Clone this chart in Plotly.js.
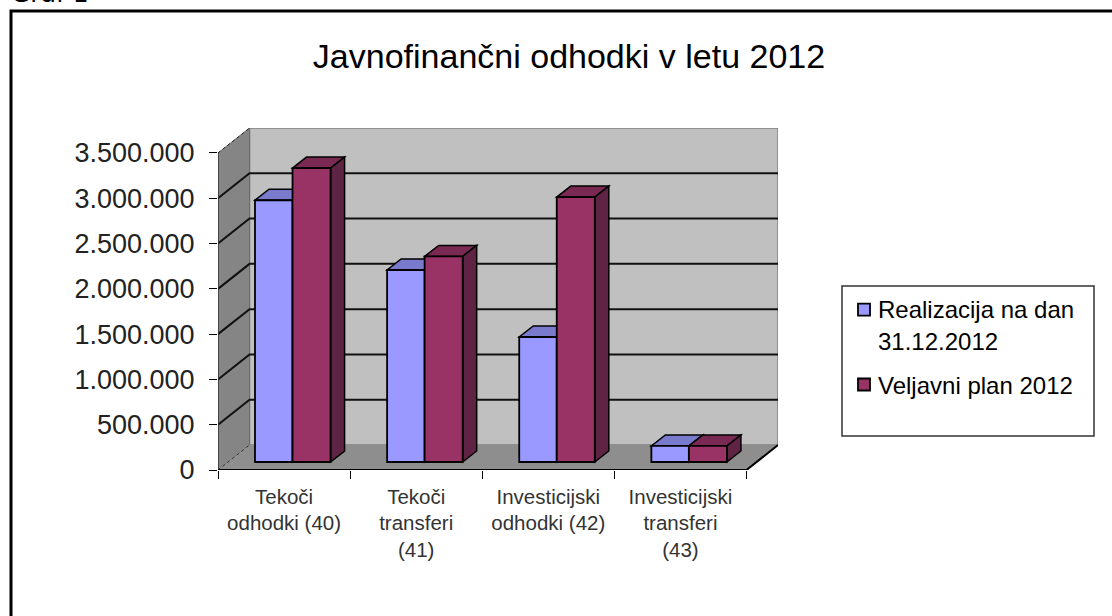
<!DOCTYPE html>
<html><head><meta charset="utf-8">
<script src="https://cdn.plot.ly/plotly-3.0.0.min.js"></script>
<style>html,body{margin:0;padding:0;background:#fff;overflow:hidden}</style>
</head><body><div id="chart" style="width:1112px;height:616px"></div>
<script>
const categories = ['Tekoči<br>odhodki (40)','Tekoči<br>transferi<br>(41)','Investicijski<br>odhodki (42)','Investicijski<br>transferi<br>(43)'];
const realizacija = [2890000, 2120000, 1380000, 177000];
const plan = [3245000, 2270000, 2925000, 177000];
const yTickVals = [0,500000,1000000,1500000,2000000,2500000,3000000,3500000];
const yTickText = ['0','500.000','1.000.000','1.500.000','2.000.000','2.500.000','3.000.000','3.500.000'];
const seriesNames = ['Realizacija na dan<br>31.12.2012','Veljavni plan 2012'];
const seriesColors = ['#9999FF','#993366'];
const topColors = ['#7A7ACC','#7A2952'];
const sideColors = ['#5C5C99','#5F2343'];

// plot box in px and 3-D projection offsets expressed in axis units
const L=218,R=778,T=128,B=470;
const N=categories.length, YMAX=3500000;
const unitX=132, unitY=45.3/500000;
const wallDX=31.5/unitX, wallDY=25/unitY;
const barDX=14/unitX, barDY=11/unitY, barBase=8/unitY;
const barW=[0.284,0.288], barOff=[-0.22,0.064];
const px=x=>(x-L)/(R-L), py=y=>(B-y)/(B-T);
const poly=p=>'M'+p.map(q=>q[0]+','+q[1]).join('L')+'Z';
const open=p=>'M'+p.map(q=>q[0]+','+q[1]).join('L');
const face=(p,fill,lw,col)=>({type:'path',xref:'x',yref:'y',layer:'below',path:poly(p),fillcolor:fill,line:{color:col||'#000',width:lw}});
const edge=(p,col,w,dash)=>({type:'path',xref:'x',yref:'y',layer:'below',path:open(p),line:{color:col,width:w,dash:dash||'solid'}});

const shapes=[];
// outer frame
shapes.push({type:'rect',xref:'paper',yref:'paper',layer:'below',x0:px(11),x1:px(1120),y0:py(11),y1:py(626),line:{color:'#000',width:3},fillcolor:'#fff'});
// walls and floor
shapes.push(face([[wallDX,wallDY],[N+wallDX,wallDY],[N+wallDX,YMAX+wallDY],[wallDX,YMAX+wallDY]],'#C0C0C0',1.5,'#808080'));
shapes.push(face([[0,0],[wallDX,wallDY],[wallDX,YMAX+wallDY],[0,YMAX]],'#858585',1,'#6a6a6a'));
shapes.push(face([[0,0],[N,0],[N+wallDX,wallDY],[wallDX,wallDY]],'#8E8E8E',0,'#8E8E8E'));
// gridlines
yTickVals.slice(1,-1).forEach(v=>shapes.push(edge([[0,v],[wallDX,v+wallDY],[N+wallDX,v+wallDY]],'#111',2)));
shapes.push(edge([[0,YMAX],[wallDX,YMAX+wallDY]],'#222',1,'dot'));
shapes.push(edge([[0,0],[wallDX,wallDY]],'#333',1,'dot'));
// outer axis edges
shapes.push(edge([[0,0],[0,YMAX]],'#333',1.5));
shapes.push(edge([[N+wallDX,wallDY],[N,0],[0,0]],'#000',2));
// bar depth faces
[realizacija,plan].forEach((vals,s)=>vals.forEach((v,i)=>{
  const x0=i+0.5+barOff[s], x1=x0+barW[s], top=barBase+v, bot=barBase;
  shapes.push(face([[x0,top],[x1,top],[x1+barDX,top+barDY],[x0+barDX,top+barDY]],topColors[s],1.5));
  shapes.push(face([[x1,bot],[x1+barDX,bot+barDY],[x1+barDX,top+barDY],[x1,top]],sideColors[s],1.5));
}));

const xCenters=categories.map((c,i)=>i+0.5);
const mkBar=(vals,s)=>({type:'bar',name:seriesNames[s],legendgroup:'g'+s,x:xCenters,y:vals,base:barBase,width:barW[s],offset:barOff[s],
  marker:{color:seriesColors[s],line:{color:'#000',width:1.8}},hoverinfo:'skip',cliponaxis:false});

const layout={
  width:1112,height:616,paper_bgcolor:'#fff',plot_bgcolor:'rgba(0,0,0,0)',
  margin:{l:L,r:1112-R,t:T,b:616-B,pad:0},
  font:{family:'"Liberation Sans",Arial,sans-serif',color:'#000'},
  title:{text:'Javnofinančni odhodki v letu 2012',x:569/1112,xref:'container',xanchor:'center',y:1-56/616,yref:'container',yanchor:'middle',font:{size:34,color:'#000'}},
  barmode:'overlay',showlegend:true,
  xaxis:{range:[0,N+wallDX],tickmode:'array',tickvals:xCenters,ticktext:categories,ticks:'',showgrid:false,zeroline:false,showline:false,
    tickfont:{size:20.5,color:'#333'},tickangle:0,automargin:false,ticklabelstandoff:12,
    minor:{tickmode:'array',tickvals:[0,1,2,3,4],ticks:'outside',ticklen:8,tickcolor:'#000',tickwidth:1,showgrid:false}},
  yaxis:{range:[0,YMAX+wallDY],tickmode:'array',tickvals:yTickVals,ticktext:yTickText,ticks:'outside',ticklen:8,tickcolor:'#000',tickwidth:1,
    showgrid:false,zeroline:false,showline:false,tickfont:{size:27,color:'#222'},automargin:false,ticklabelstandoff:9},
  legend:{x:px(853),y:py(287),xanchor:'left',yanchor:'top',bgcolor:'rgba(0,0,0,0)',borderwidth:0,font:{size:24,color:'#000'},indentation:-15,tracegroupgap:10,traceorder:'grouped'},
  shapes:shapes.concat([{type:'rect',xref:'paper',yref:'paper',layer:'below',x0:px(842),x1:px(1094),y0:py(286),y1:py(436),line:{color:'#333',width:1.5},fillcolor:'#fff'}]),
  annotations:[{text:'Graf 1',xref:'paper',yref:'paper',x:px(9),y:py(10),xanchor:'left',yanchor:'bottom',showarrow:false,align:'left',font:{family:'"DejaVu Sans",Verdana,sans-serif',size:25,color:'#000'}}]
};
Plotly.newPlot('chart',[mkBar(realizacija,0),mkBar(plan,1)],layout,{displayModeBar:false,staticPlot:true}).then(gd=>{
  // the reference aligns the swatches with the first text line and sets them closer to the text
  const sym=gd.querySelectorAll('.legend .traces .legendsymbols');
  if(sym[0]) sym[0].setAttribute('transform','translate(6,-15)');
  if(sym[1]) sym[1].setAttribute('transform','translate(6,0)');
});
</script></body></html>
